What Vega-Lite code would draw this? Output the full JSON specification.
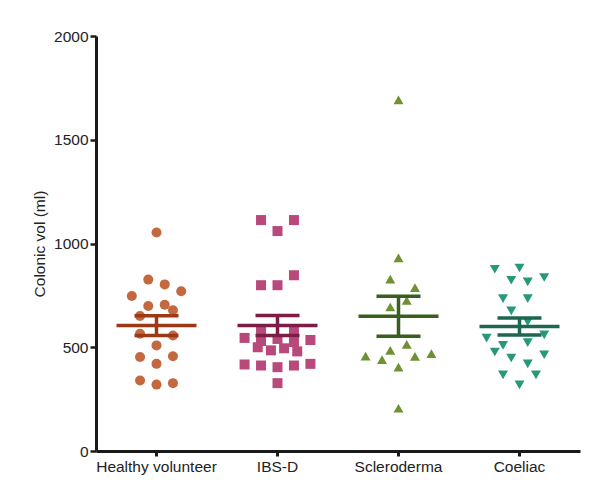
{
  "$schema": "https://vega.github.io/schema/vega-lite/v6.json",
  "autosize": "none",
  "width": 484,
  "height": 415,
  "padding": {"left": 96, "top": 36, "right": 15, "bottom": 43},
  "background": "white",
  "config": {
    "view": {"stroke": null},
    "font": "Liberation Sans",
    "axis": {
      "grid": false,
      "domainColor": "#1a1a1a",
      "domainWidth": 3,
      "tickColor": "#1a1a1a",
      "tickWidth": 2.5,
      "tickSize": 6,
      "labelFont": "Liberation Sans",
      "labelFontSize": 15.5,
      "labelColor": "#222222",
      "titleFont": "Liberation Sans",
      "titleFontSize": 15.5,
      "titleFontWeight": "normal",
      "titleColor": "#222222"
    }
  },
  "data": {
    "values": [
      {"group": "Healthy volunteer", "vol": 1053, "slot": 0},
      {"group": "Healthy volunteer", "vol": 826, "slot": -1},
      {"group": "Healthy volunteer", "vol": 803, "slot": 1},
      {"group": "Healthy volunteer", "vol": 747, "slot": -3},
      {"group": "Healthy volunteer", "vol": 770, "slot": 3},
      {"group": "Healthy volunteer", "vol": 699, "slot": -1},
      {"group": "Healthy volunteer", "vol": 705, "slot": 1},
      {"group": "Healthy volunteer", "vol": 678, "slot": 2},
      {"group": "Healthy volunteer", "vol": 651, "slot": -2},
      {"group": "Healthy volunteer", "vol": 565, "slot": -2},
      {"group": "Healthy volunteer", "vol": 557, "slot": 2},
      {"group": "Healthy volunteer", "vol": 509, "slot": 0},
      {"group": "Healthy volunteer", "vol": 453, "slot": -2},
      {"group": "Healthy volunteer", "vol": 420, "slot": 0},
      {"group": "Healthy volunteer", "vol": 457, "slot": 2},
      {"group": "Healthy volunteer", "vol": 340, "slot": -2},
      {"group": "Healthy volunteer", "vol": 320, "slot": 0},
      {"group": "Healthy volunteer", "vol": 327, "slot": 2},
      {"group": "IBS-D", "vol": 1113, "slot": -2},
      {"group": "IBS-D", "vol": 1113, "slot": 2},
      {"group": "IBS-D", "vol": 1060, "slot": 0},
      {"group": "IBS-D", "vol": 847, "slot": 2},
      {"group": "IBS-D", "vol": 799, "slot": -2},
      {"group": "IBS-D", "vol": 799, "slot": 0},
      {"group": "IBS-D", "vol": 575, "slot": -2},
      {"group": "IBS-D", "vol": 575, "slot": 2},
      {"group": "IBS-D", "vol": 545, "slot": -4},
      {"group": "IBS-D", "vol": 530, "slot": -2},
      {"group": "IBS-D", "vol": 540, "slot": 0},
      {"group": "IBS-D", "vol": 525, "slot": 2},
      {"group": "IBS-D", "vol": 535, "slot": 4},
      {"group": "IBS-D", "vol": 500, "slot": -2.4},
      {"group": "IBS-D", "vol": 485, "slot": -0.8},
      {"group": "IBS-D", "vol": 495, "slot": 0.8},
      {"group": "IBS-D", "vol": 480, "slot": 2.4},
      {"group": "IBS-D", "vol": 417, "slot": -4},
      {"group": "IBS-D", "vol": 412, "slot": -2},
      {"group": "IBS-D", "vol": 404, "slot": 0},
      {"group": "IBS-D", "vol": 412, "slot": 2},
      {"group": "IBS-D", "vol": 420, "slot": 4},
      {"group": "IBS-D", "vol": 327, "slot": 0},
      {"group": "Scleroderma", "vol": 1692, "slot": 0},
      {"group": "Scleroderma", "vol": 931, "slot": 0},
      {"group": "Scleroderma", "vol": 828, "slot": -1},
      {"group": "Scleroderma", "vol": 787, "slot": 2},
      {"group": "Scleroderma", "vol": 726, "slot": 1},
      {"group": "Scleroderma", "vol": 694, "slot": -1},
      {"group": "Scleroderma", "vol": 514, "slot": 1},
      {"group": "Scleroderma", "vol": 485, "slot": -1},
      {"group": "Scleroderma", "vol": 457, "slot": -4},
      {"group": "Scleroderma", "vol": 440, "slot": -2},
      {"group": "Scleroderma", "vol": 456, "slot": 2},
      {"group": "Scleroderma", "vol": 469, "slot": 4},
      {"group": "Scleroderma", "vol": 404, "slot": 0},
      {"group": "Scleroderma", "vol": 206, "slot": 0},
      {"group": "Coeliac", "vol": 876, "slot": -3},
      {"group": "Coeliac", "vol": 882, "slot": 0},
      {"group": "Coeliac", "vol": 823, "slot": -1},
      {"group": "Coeliac", "vol": 815, "slot": 1},
      {"group": "Coeliac", "vol": 836, "slot": 3},
      {"group": "Coeliac", "vol": 734, "slot": -2},
      {"group": "Coeliac", "vol": 734, "slot": 1},
      {"group": "Coeliac", "vol": 675, "slot": -1},
      {"group": "Coeliac", "vol": 622, "slot": 1},
      {"group": "Coeliac", "vol": 544, "slot": -4},
      {"group": "Coeliac", "vol": 509, "slot": -2},
      {"group": "Coeliac", "vol": 522, "slot": 1},
      {"group": "Coeliac", "vol": 560, "slot": 3},
      {"group": "Coeliac", "vol": 477, "slot": -3},
      {"group": "Coeliac", "vol": 448, "slot": -1},
      {"group": "Coeliac", "vol": 420, "slot": 1},
      {"group": "Coeliac", "vol": 464, "slot": 3},
      {"group": "Coeliac", "vol": 367, "slot": -2},
      {"group": "Coeliac", "vol": 367, "slot": 2},
      {"group": "Coeliac", "vol": 319, "slot": 0}
    ]
  },
  "encoding": {
    "x": {
      "field": "group",
      "type": "nominal",
      "sort": ["Healthy volunteer", "IBS-D", "Scleroderma", "Coeliac"],
      "scale": {"paddingInner": 0, "paddingOuter": 0},
      "axis": {"title": null, "labelAngle": 0, "tickSize": 5, "tickWidth": 3, "labelPadding": 3, "bandPosition": 0.5}
    }
  },
  "layer": [
    {
      "mark": {"type": "point", "filled": true, "opacity": 1, "size": 100, "strokeWidth": 0},
      "encoding": {
        "xOffset": {"field": "slot", "type": "quantitative", "scale": {"domain": [-7.35, 7.35]}},
        "y": {
          "field": "vol",
          "type": "quantitative",
          "scale": {"domain": [0, 2000], "nice": false},
          "axis": {"values": [0, 500, 1000, 1500, 2000], "format": "d", "title": "Colonic vol (ml)", "titlePadding": 6, "labelPadding": 2}
        },
        "color": {
          "field": "group",
          "type": "nominal",
          "legend": null,
          "scale": {
            "domain": ["Healthy volunteer", "IBS-D", "Scleroderma", "Coeliac"],
            "range": ["#c4693f", "#b8497a", "#6e9134", "#26997a"]
          }
        },
        "shape": {
          "field": "group",
          "type": "nominal",
          "legend": null,
          "scale": {
            "domain": ["Healthy volunteer", "IBS-D", "Scleroderma", "Coeliac"],
            "range": ["circle", "square", "triangle-up", "triangle-down"]
          }
        }
      }
    },
    {
      "mark": {"type": "errorbar", "extent": "stderr", "ticks": {"opacity": 1}, "rule": {"opacity": 1}, "size": 44, "thickness": 3.5},
      "encoding": {
        "y": {"field": "vol", "type": "quantitative", "title": "Colonic vol (ml)"},
        "color": {
          "field": "group",
          "type": "nominal",
          "legend": null,
          "scale": {
            "domain": ["Healthy volunteer", "IBS-D", "Scleroderma", "Coeliac"],
            "range": ["#9c3a17", "#7c1d48", "#375f1e", "#1d6650"]
          }
        }
      }
    },
    {
      "mark": {"type": "tick", "size": 80, "thickness": 3.5, "opacity": 1},
      "encoding": {
        "y": {"field": "vol", "type": "quantitative", "aggregate": "mean", "title": "Colonic vol (ml)"},
        "color": {
          "field": "group",
          "type": "nominal",
          "legend": null,
          "scale": {
            "domain": ["Healthy volunteer", "IBS-D", "Scleroderma", "Coeliac"],
            "range": ["#9c3a17", "#7c1d48", "#375f1e", "#1d6650"]
          }
        }
      }
    }
  ],
  "resolve": {"scale": {"color": "independent"}}
}
